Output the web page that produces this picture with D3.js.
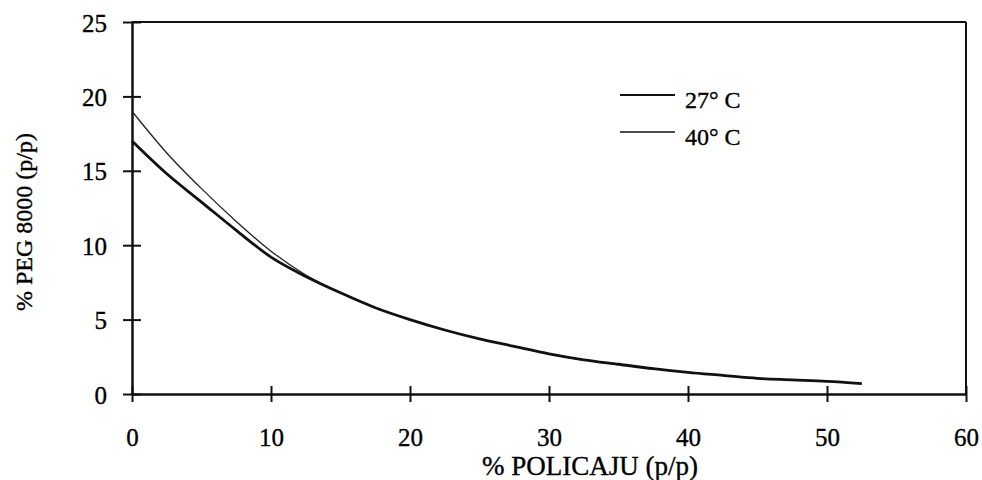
<!DOCTYPE html>
<html>
<head>
<meta charset="utf-8">
<script src="https://cdn.jsdelivr.net/npm/d3@7"></script>
<style>
  body { margin: 0; background: #fff; }
  svg { display: block; }
  text { font-family: "Liberation Serif", "Times New Roman", serif; fill: #000; stroke: #000; stroke-width: 0.35px; }
</style>
</head>
<body>
<div id="chart"></div>
<script>
// values
var policaju = [0, 2.5, 5, 7.5, 10, 12.5, 15, 17.5, 20, 22.5, 25, 27.5, 30, 32.5, 35, 37.5, 40, 42.5, 45, 47.5, 50, 52.5];
var peg27 = [17.0, 14.8, 12.9, 11.0, 9.2, 7.9, 6.8, 5.8, 5.0, 4.3, 3.7, 3.2, 2.7, 2.3, 2.0, 1.7, 1.45, 1.25, 1.05, 0.95, 0.85, 0.7];
var peg40 = [19.0, 16.2, 13.8, 11.6, 9.6, 8.0, 6.8, 5.8, 5.0, 4.3, 3.7, 3.2, 2.7, 2.3, 2.0, 1.7, 1.45, 1.25, 1.05, 0.95, 0.85, 0.7];
var xTicks = [0, 10, 20, 30, 40, 50, 60];
var yTicks = [0, 5, 10, 15, 20, 25];
var seriesNames = ["27° C", "40° C"];

var svgWidth = 982, svgHeight = 480;
var margin = {top: 22, right: 16, bottom: 86, left: 132};

var svg = d3.select("#chart").append("svg")
    .attr("width", svgWidth)
    .attr("height", svgHeight);

var x = d3.scaleLinear().domain([0, 60]).range([margin.left, svgWidth - margin.right]);
var y = d3.scaleLinear().domain([0, 25]).range([svgHeight - margin.bottom, margin.top]);

// frame top + right
svg.append("line")
    .attr("x1", x(0)).attr("x2", x(60)).attr("y1", y(25)).attr("y2", y(25))
    .attr("stroke", "#111").attr("stroke-width", 2);
svg.append("line")
    .attr("x1", x(60)).attr("x2", x(60)).attr("y1", y(25)).attr("y2", y(0))
    .attr("stroke", "#111").attr("stroke-width", 2);

// y axis
var gy = svg.append("g")
    .attr("transform", "translate(" + x(0) + ",0)")
    .call(d3.axisLeft(y).tickValues(yTicks).tickSizeInner(9).tickSizeOuter(0).tickPadding(16));
gy.selectAll(".tick line").attr("x1", 9).attr("stroke", "#111").attr("stroke-width", 2);
gy.select(".domain").attr("stroke", "#111").attr("stroke-width", 2.5);
gy.selectAll(".tick text").attr("font-size", 25).attr("dy", "0.36em")
    .style("font-family", "'Liberation Serif', serif");

// x axis
var gx = svg.append("g")
    .attr("transform", "translate(0," + y(0) + ")")
    .call(d3.axisBottom(x).tickValues(xTicks).tickSizeInner(8).tickSizeOuter(0).tickPadding(26));
gx.selectAll(".tick line").attr("y1", -8).attr("stroke", "#111").attr("stroke-width", 2);
gx.select(".domain").attr("stroke", "#111").attr("stroke-width", 2.5);
gx.selectAll(".tick text").attr("font-size", 25)
    .style("font-family", "'Liberation Serif', serif");

// axis titles
svg.append("text")
    .attr("x", 590).attr("y", 475)
    .attr("text-anchor", "middle")
    .attr("font-size", 27)
    .text("% POLICAJU (p/p)");
svg.append("text")
    .attr("transform", "translate(32,222) rotate(-90)")
    .attr("text-anchor", "middle")
    .attr("font-size", 24)
    .text("% PEG 8000 (p/p)");

// curves
var line = d3.line()
    .x(function (d) { return x(d[0]); })
    .y(function (d) { return y(d[1]); })
    .curve(d3.curveMonotoneX);

svg.append("path")
    .datum(d3.zip(policaju, peg40))
    .attr("d", line)
    .attr("fill", "none").attr("stroke", "#222").attr("stroke-width", 1.3);
svg.append("path")
    .datum(d3.zip(policaju, peg27))
    .attr("d", line)
    .attr("fill", "none").attr("stroke", "#111").attr("stroke-width", 2.8);

// legend
var legendY = [95, 132];
var legendW = [2.2, 1.3];
seriesNames.forEach(function (name, i) {
    svg.append("line")
        .attr("x1", 620).attr("x2", 675)
        .attr("y1", legendY[i]).attr("y2", legendY[i])
        .attr("stroke", "#111").attr("stroke-width", legendW[i]);
    svg.append("text")
        .attr("x", 685).attr("y", legendY[i] + 13)
        .attr("font-size", 24)
        .text(name);
});
</script>
</body>
</html>
